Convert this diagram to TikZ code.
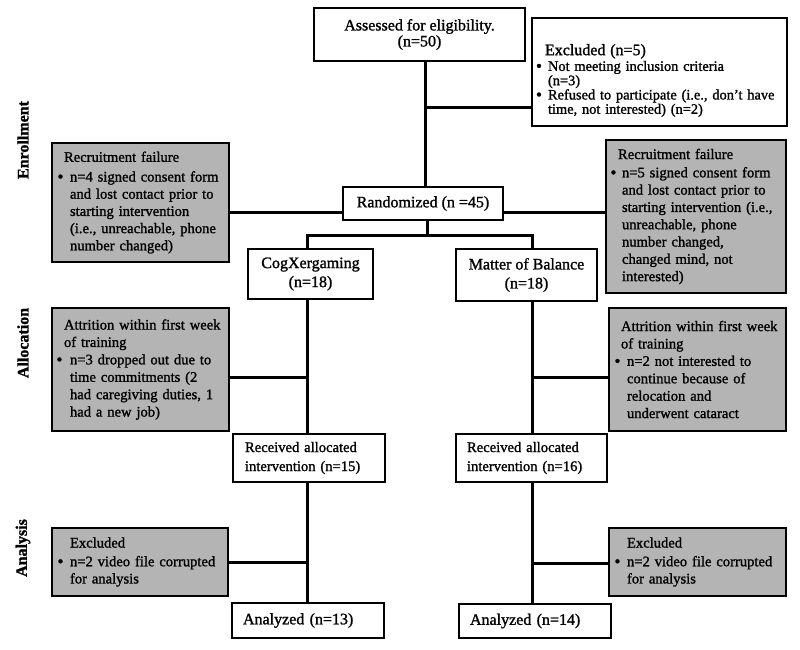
\documentclass[tikz,border=0pt]{standalone}
\usepackage{fontspec}
\setmainfont{Liberation Serif}[RawFeature={embolden=1.3}]
\definecolor{boxgray}{RGB}{180,180,180}
\newlength{\bw}
\newlength{\hd}
\newcommand{\bdot}{\raisebox{-0.7pt}{\fontsize{17}{17}\selectfont\textbullet}}
\newcommand{\bitem}[1]{\makebox[\bw][l]{\bdot}\mbox{#1}}
\newcommand{\bcont}[1]{\hspace*{\bw}\mbox{#1}}
\newcommand{\bhead}[1]{\hspace*{\hd}\mbox{#1}}
\tikzset{
  wbox/.style={draw, line width=1.6pt, fill=white, inner sep=0pt, align=center,
    font=\fontsize{16}{16}\selectfont},
  lbox/.style={draw, line width=1.6pt, fill=white, inner ysep=0pt, align=left,
    font=\fontsize{14.6}{19}\selectfont},
  gbox/.style={draw, line width=1.6pt, fill=boxgray, inner ysep=0pt, align=left,
    font=\fontsize{14.6}{17.2}\selectfont},
  conn/.style={line width=3pt},
  side/.style={rotate=90, font=\fontsize{16}{16}\selectfont\bfseries},
}
\begin{document}
\begin{tikzpicture}[x=1pt,y=-1pt]
\fill[white] (0,0) rectangle (800,649);
\useasboundingbox (0,0) rectangle (800,649);

% side labels
\node[side] (lenr) at (23,140) {Enrollment};
\node[side] (lall) at (23,343) {Allocation};
\node[side] (lana) at (23,548) {Analysis};

% enrollment
\node[wbox, minimum width=211pt, minimum height=53pt] (assess) at (419.5,34.5)
  {Assessed for eligibility.\\(n=50)};
\node[draw, line width=1.6pt, fill=white, inner ysep=0pt, inner xsep=4pt, align=left,
  text width=247pt, minimum height=108pt, font=\fontsize{14.4}{14.3}\selectfont] (excl5) at (659.5,72)
  {\setlength{\bw}{12pt}\setlength{\hd}{9pt}%
   \rule{0pt}{28pt}{\fontsize{16}{14.3}\selectfont\bhead{Excluded (n=5)}}\\[1.4pt]
   \bitem{Not meeting inclusion criteria}\\
   \bcont{(n=3)}\\
   \bitem{Refused to participate (i.e., don't have}\\
   \bcont{time, not interested) (n=2)}};

\node[gbox, inner xsep=5.5pt, text width=166pt, minimum height=119pt] (lrec) at (140.5,202.5)
  {\setlength{\bw}{12.5pt}\setlength{\hd}{6.5pt}%
   \bhead{Recruitment failure}\\[2.5pt]
   \bitem{n=4 signed consent form}\\
   \bcont{and lost contact prior to}\\
   \bcont{starting intervention}\\
   \bcont{(i.e., unreachable, phone}\\
   \bcont{number changed)}};

\node[wbox, minimum width=160pt, minimum height=33pt] (rand) at (423,203.5)
  {Randomized (n =45)};

\node[gbox, inner xsep=4.5pt, text width=171pt, minimum height=153pt,
  font=\fontsize{14.6}{17.3}\selectfont] (rrec) at (696,216.5)
  {\setlength{\bw}{11.5pt}\setlength{\hd}{7.5pt}%
   \bhead{Recruitment failure}\\[1pt]
   \bitem{n=5 signed consent form}\\
   \bcont{and lost contact prior to}\\
   \bcont{starting intervention (i.e.,}\\
   \bcont{unreachable, phone}\\
   \bcont{number changed,}\\
   \bcont{changed mind, not}\\
   \bcont{interested)}};

% allocation
\node[wbox, minimum width=125pt, minimum height=50pt, font=\fontsize{16}{19}\selectfont] (cogx) at (310.5,274)
  {CogXergaming\\(n=18)};
\node[wbox, minimum width=141pt, minimum height=52pt, font=\fontsize{16}{19}\selectfont] (mob) at (526.5,275)
  {Matter of Balance\\(n=18)};

\node[gbox, inner xsep=4.5pt, text width=168pt, minimum height=123pt,
  font=\fontsize{14.6}{17.4}\selectfont] (latt) at (140.5,369.5)
  {\setlength{\bw}{13.5pt}\setlength{\hd}{7.5pt}%
   \bhead{Attrition within first week}\\
   \bhead{of training}\\
   \bitem{n=3 dropped out due to}\\
   \bcont{time commitments (2}\\
   \bcont{had caregiving duties, 1}\\
   \bcont{had a new job)}};

\node[gbox, inner xsep=5.5pt, text width=166pt, minimum height=123pt,
  font=\fontsize{14.6}{17.4}\selectfont] (ratt) at (697.5,369.5)
  {\setlength{\bw}{12.5pt}\setlength{\hd}{6.5pt}%
   \bhead{Attrition within first week}\\
   \bhead{of training}\\
   \bitem{n=2 not interested to}\\
   \bcont{continue because of}\\
   \bcont{relocation and}\\
   \bcont{underwent cataract}};

\node[lbox, inner xsep=12pt, text width=128pt, minimum height=48pt] (recl) at (309,458)
  {Received allocated\\intervention (n=15)};
\node[lbox, inner xsep=11pt, text width=129pt, minimum height=48pt] (recr) at (531.5,458)
  {Received allocated\\intervention (n=16)};

% analysis
\node[gbox, inner xsep=5.5pt, text width=165pt, minimum height=68pt] (lexc) at (140,562)
  {\setlength{\bw}{12.5pt}\setlength{\hd}{12.5pt}%
   \bhead{Excluded}\\[1.5pt]
   \bitem{n=2 video file corrupted}\\
   \bcont{for analysis}};
\node[gbox, inner xsep=5.5pt, text width=166pt, minimum height=68pt] (rexc) at (697.5,562)
  {\setlength{\bw}{12.5pt}\setlength{\hd}{12.5pt}%
   \bhead{Excluded}\\[1.5pt]
   \bitem{n=2 video file corrupted}\\
   \bcont{for analysis}};

\node[lbox, inner xsep=11pt, text width=130pt, minimum height=35pt, font=\fontsize{16}{16}\selectfont] (anl) at (308,620.5)
  {Analyzed (n=13)};
\node[lbox, inner xsep=11pt, text width=130pt, minimum height=34pt, font=\fontsize{16}{16}\selectfont] (anr) at (535,621)
  {Analyzed (n=14)};

% connectors
\coordinate (t1) at (425,107);
\draw[conn] (assess.south -| t1) -- (rand.north -| t1);
\draw[conn] (t1) -- (t1 -| excl5.west);

\coordinate (yr) at (0,212);
\draw[conn] (lrec.east |- yr) -- (rand.west |- yr);
\draw[conn] (rand.east |- yr) -- (rrec.west |- yr);

\coordinate (sp) at (427,235);
\coordinate (cl) at (307,235);
\coordinate (cr) at (532,235);
\draw[conn] (rand.south -| sp) -- (sp);
\draw[conn] (cogx.north -| cl) -- (cl) -- (cr) -- (mob.north -| cr);

\draw[conn] (cogx.south -| cl) -- (recl.north -| cl);
\coordinate (b1) at (307,377);
\draw[conn] (b1) -- (b1 -| latt.east);
\draw[conn] (recl.south -| cl) -- (anl.north -| cl);
\coordinate (b2) at (307,562);
\draw[conn] (b2) -- (b2 -| lexc.east);

\draw[conn] (mob.south -| cr) -- (recr.north -| cr);
\coordinate (b3) at (532,377);
\draw[conn] (b3) -- (b3 -| ratt.west);
\draw[conn] (recr.south -| cr) -- (anr.north -| cr);
\coordinate (b4) at (532,563);
\draw[conn] (b4) -- (b4 -| rexc.west);
\end{tikzpicture}
\end{document}
